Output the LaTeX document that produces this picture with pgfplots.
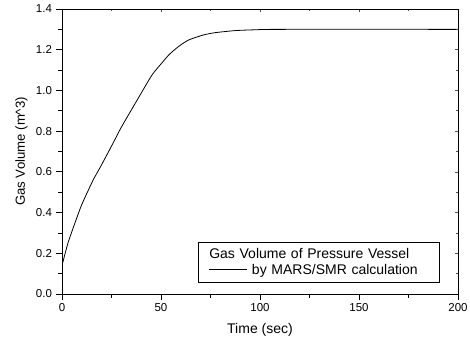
\documentclass[border=0pt]{standalone}
\usepackage{fontspec}
\setmainfont{Liberation Sans}
\usepackage{pgfplots}
\pgfplotsset{compat=1.18}
\usetikzlibrary{calc}
\begin{document}
\begin{tikzpicture}
\begin{axis}[
  scale only axis, width=396pt, height=285pt,
  xmin=0, xmax=200, ymin=0, ymax=1.4,
  xtick={0,50,100,150,200}, ytick={0,0.2,...,1.4},
  minor x tick num=1, minor y tick num=1,
  xtick pos=left, ytick pos=left,
  tick align=outside,
  major tick length=5.5pt, minor tick length=3.5pt,
  tick style={black, line width=0.8pt},
  axis line style={line width=0.9pt},
  /pgf/number format/assume math mode=true,
  /pgf/number format/.cd, fixed, fixed zerofill, precision=1, /pgfplots/.cd,
  yticklabel style={font=\fontsize{11.5}{13}\selectfont, xshift=-1pt},
  xticklabel style={font=\fontsize{11.5}{13}\selectfont, /pgf/number format/precision=0, /pgf/number format/fixed zerofill=false},
  xlabel={Time (sec)}, ylabel={Gas Volume (m\^{}3)},
  xlabel style={font=\fontsize{14}{16}\selectfont, yshift=-5pt},
  ylabel style={font=\fontsize{13.2}{15}\selectfont, yshift=1.5pt},
]
\addplot[black, line width=0.8pt, smooth, tension=0.4] coordinates {
(0,0.14) (3,0.25) (6.4,0.345) (9.8,0.435) (13.3,0.51) (16,0.565) (20,0.635)
(26,0.745) (30,0.82) (38.7,0.965) (45.4,1.075) (50,1.13) (54,1.175) (57.5,1.205) (60.6,1.228)
(64,1.248) (67.4,1.26) (72,1.274) (77.5,1.284) (87.6,1.294) (98,1.298) (110,1.3) (200,1.3)
};
\coordinate (sw) at (rel axis cs:0,0);
\coordinate (ne) at (rel axis cs:1,1);
\node[draw, line width=0.6pt, anchor=south west, inner xsep=11pt, inner ysep=0pt,
  text width=219pt, align=left, minimum height=40pt,
  font=\fontsize{14}{16}\selectfont] at ($(rel axis cs:0,0)+(136pt,11pt)$)
  {Gas Volume of Pressure Vessel\\\rule[0.33em]{38pt}{0.6pt} by MARS/SMR calculation};
\end{axis}
\begin{axis}[
  scale only axis, width=396pt, height=285pt,
  xmin=0, xmax=200, ymin=0, ymax=1.4,
  xtick={0,50,100,150,200}, ytick={0,0.2,...,1.4},
  minor x tick num=1, minor y tick num=1,
  xtick pos=right, ytick pos=right,
  tick align=inside, xticklabels={}, yticklabels={},
  major tick length=3pt, minor tick length=2pt,
  tick style={black!70, line width=0.6pt},
  axis line style={line width=0.9pt},
]
\end{axis}
\pgfresetboundingbox
\path ($(sw)+(-62pt,-49pt)$) rectangle ($(ne)+(12pt,9pt)$);
\end{tikzpicture}
\end{document}
